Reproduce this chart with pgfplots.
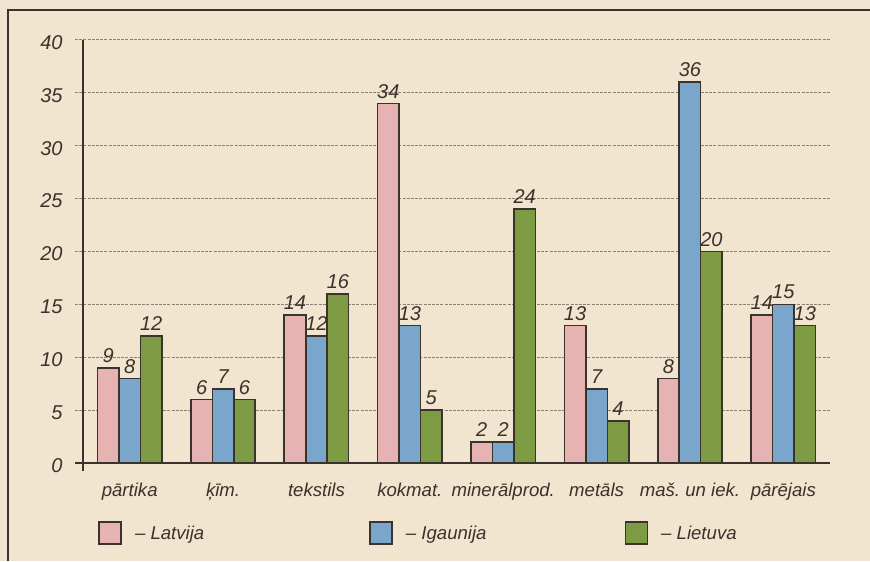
\documentclass[border=0pt]{standalone}
\usepackage{pgfplots}
\pgfplotsset{compat=1.18}
\usepackage{fontspec}
\setmainfont{Liberation Sans}
\frenchspacing

\definecolor{paper}{RGB}{241,229,207}
\definecolor{ink}{RGB}{58,50,44}
\definecolor{gridc}{RGB}{140,128,115}
\definecolor{lvpink}{RGB}{231,178,178}
\definecolor{eeblue}{RGB}{122,166,204}
\definecolor{ltgreen}{RGB}{124,155,66}

\newcommand{\numfont}{\fontsize{10}{12}\selectfont\itshape}
\newcommand{\wordfont}{\fontsize{9.3}{11}\selectfont\itshape}

\begin{document}
\begin{tikzpicture}[x=1pt,y=1pt]
% page background and frame
\fill[paper] (0,0) rectangle (435,280.5);
\useasboundingbox (0,0) rectangle (435,280.5);
\draw[ink, line width=0.9pt] (4,0) -- (4,275.5) -- (435,275.5);

\begin{axis}[
  at={(37.5pt,49pt)}, anchor=south west,
  scale only axis, width=377.5pt, height=211.5pt,
  xmin=-0.5857, xmax=7.5, ymin=0, ymax=40,
  clip=false,
  ybar=0pt, bar width=0.23,
  axis line style={draw=none},
  major tick length=0pt,
  /pgf/number format/assume math mode=true,
  ytick={0,5,...,40},
  ymajorgrids,
  grid style={gridc, line width=0.5pt, dash pattern=on 1.5pt off 0.6pt},
  yticklabel style={font=\numfont, text=ink, inner sep=0pt, anchor=east, xshift=-6pt, yshift=-1.2pt},
  xtick={0,...,7},
  xticklabels={pārtika, ķīm., tekstils, kokmat., minerālprod., metāls, maš. un iek., pārējais},
  xticklabel style={font=\wordfont, text=ink, inner sep=0pt, anchor=north, text height=7pt, text depth=2pt, yshift=-9.5pt},
  every axis plot/.append style={draw=ink, line width=0.8pt},
  nodes near coords,
  every node near coord/.append style={font=\numfont, text=ink, inner sep=0pt, anchor=south, yshift=2.2pt},
  legend columns=3,
  legend image code/.code={\draw[#1,/tikz/.cd] (0pt,-5.5pt) rectangle (11pt,5.5pt);},
  legend style={draw=none, fill=none, at={(0.0305,-0.1655)}, anchor=west,
    font=\wordfont, text=ink, inner sep=0pt,
    nodes={inner sep=0pt, text depth=0pt},
    /tikz/column 1/.style={column sep=6.5pt},
    /tikz/column 2/.style={column sep=82.5pt},
    /tikz/column 3/.style={column sep=6.5pt},
    /tikz/column 4/.style={column sep=69pt},
    /tikz/column 5/.style={column sep=6.5pt}},
]
\addplot[fill=lvpink] coordinates {(0,9) (1,6) (2,14) (3,34) (4,2) (5,13) (6,8) (7,14)};
\addlegendentry{– Latvija}
\addplot[fill=eeblue] coordinates {(0,8) (1,7) (2,12) (3,13) (4,2) (5,7) (6,36) (7,15)};
\addlegendentry{– Igaunija}
\addplot[fill=ltgreen] coordinates {(0,12) (1,6) (2,16) (3,5) (4,24) (5,4) (6,20) (7,13)};
\addlegendentry{– Lietuva}

% axis lines
\draw[ink, line width=1.2pt] (axis cs:-0.5857,0) -- (axis cs:7.5,0);
\draw[ink, line width=1.3pt] (axis cs:-0.5,-0.75) -- (axis cs:-0.5,40);
\end{axis}
\end{tikzpicture}
\end{document}
